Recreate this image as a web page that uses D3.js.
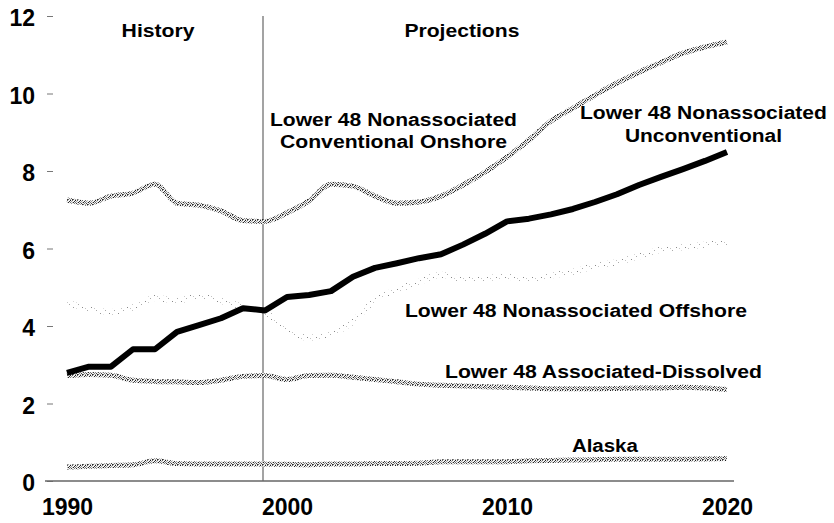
<!DOCTYPE html>
<html>
<head>
<meta charset="utf-8">
<script src="https://cdn.jsdelivr.net/npm/d3@7"></script>
<style>
  html, body { margin: 0; padding: 0; background: #fff; }
  svg { display: block; }
  text { font-family: "Liberation Sans", Arial, Helvetica, sans-serif; font-weight: bold; fill: #000; }
</style>
</head>
<body>
<svg id="chart" width="834" height="523"></svg>
<script>
// ---- Data (trillion cubic feet) ----
const years = d3.range(1990, 2021);
const onshore = [7.25, 7.17, 7.35, 7.43, 7.66, 7.17, 7.12, 6.97, 6.72, 6.7,
  6.92, 7.23, 7.66, 7.61, 7.35, 7.17, 7.2, 7.35, 7.64, 7.97,
  8.36, 8.8, 9.29, 9.62, 9.96, 10.27, 10.55, 10.8, 11.04, 11.2, 11.33];
const unconventional = [2.79, 2.95, 2.95, 3.4, 3.4, 3.85, 4.02, 4.2, 4.46, 4.4,
  4.75, 4.8, 4.9, 5.27, 5.5, 5.62, 5.75, 5.85, 6.1, 6.38,
  6.7, 6.77, 6.88, 7.02, 7.2, 7.4, 7.64, 7.85, 8.05, 8.26, 8.49];
const offshore = [4.6, 4.45, 4.36, 4.48, 4.72, 4.66, 4.76, 4.65, 4.5, 4.35,
  3.88, 3.7, 3.8, 4.12, 4.68, 4.93, 5.14, 5.32, 5.22, 5.24,
  5.27, 5.2, 5.3, 5.4, 5.55, 5.65, 5.8, 5.97, 6.03, 6.1, 6.17];
const associated = [2.72, 2.75, 2.73, 2.6, 2.57, 2.56, 2.54, 2.6, 2.7, 2.72,
  2.62, 2.72, 2.73, 2.68, 2.62, 2.56, 2.5, 2.47, 2.45, 2.43,
  2.42, 2.4, 2.38, 2.38, 2.38, 2.39, 2.4, 2.4, 2.42, 2.4, 2.36];
const alaska = [0.36, 0.38, 0.4, 0.42, 0.52, 0.45, 0.44, 0.44, 0.44, 0.44,
  0.43, 0.42, 0.44, 0.44, 0.45, 0.45, 0.46, 0.5, 0.5, 0.5,
  0.5, 0.52, 0.53, 0.54, 0.55, 0.56, 0.56, 0.56, 0.56, 0.57, 0.58];
const yTicks = [0, 2, 4, 6, 8, 10, 12];
const xTicks = [1990, 2000, 2010, 2020];
const historyEnd = 1999;

// ---- Scales ----
const svg = d3.select("#chart");
const x = d3.scaleLinear().domain([1990, 2020]).range([67, 727]);
const y = d3.scaleLinear().domain([0, 12]).range([481, 16]);

// ---- Patterns (stippled halftone look) ----
const defs = svg.append("defs");
const stip = defs.append("pattern").attr("id", "stip")
  .attr("width", 5).attr("height", 5).attr("patternUnits", "userSpaceOnUse");
stip.append("rect").attr("width", 5).attr("height", 5).attr("fill", "#f2f2f2");
[[0,0,"#1a1a1a"],[2,0,"#666"],[4,1,"#333"],[1,1,"#999"],[3,2,"#222"],[0,2,"#777"],
 [1,3,"#444"],[4,3,"#888"],[2,4,"#2a2a2a"],[0,4,"#aaa"],[3,4,"#666"],[2,2,"#bbb"]].forEach(([px,py,c]) =>
  stip.append("rect").attr("x", px).attr("y", py).attr("width", 1).attr("height", 1).attr("fill", c));

const dots = defs.append("pattern").attr("id", "dots")
  .attr("width", 9).attr("height", 6).attr("patternUnits", "userSpaceOnUse");
[[1,1,"#888"],[6,4,"#aaa"],[4,2,"#c4c4c4"]].forEach(([px,py,c]) =>
  dots.append("rect").attr("x", px).attr("y", py).attr("width", 1).attr("height", 1).attr("fill", c));

// ---- Axes ----
const yAxis = d3.axisLeft(y).tickValues(yTicks).tickSize(6).tickPadding(12).tickFormat(d3.format("d"));
const gy = svg.append("g").attr("transform", "translate(53,0)").call(yAxis);
gy.select(".domain").remove();
gy.selectAll(".tick line").attr("stroke", "#777").attr("stroke-width", 1);
gy.selectAll(".tick text").attr("font-size", 23).attr("dy", "0.43em")
  .style("font-family", '"Liberation Sans", Arial, sans-serif').style("font-weight", "bold").attr("fill", "#000");

const xAxis = d3.axisBottom(x).tickValues(xTicks).tickSize(0).tickPadding(18).tickFormat(d3.format("d"));
const gx = svg.append("g").attr("transform", `translate(0,${y(0)})`).call(xAxis);
gx.select(".domain").remove();
gx.selectAll(".tick text").attr("font-size", 23)
  .style("font-family", '"Liberation Sans", Arial, sans-serif').style("font-weight", "bold").attr("fill", "#000");
svg.append("line")
  .attr("x1", x(1990) - 22).attr("x2", x(2020) + 7)
  .attr("y1", y(0)).attr("y2", y(0))
  .attr("stroke", "#666").attr("stroke-width", 1.5);

// History / projections divider
svg.append("line")
  .attr("x1", x(historyEnd) - 2).attr("x2", x(historyEnd) - 2)
  .attr("y1", y(12)).attr("y2", y(0))
  .attr("stroke", "#666").attr("stroke-width", 1.2);

// ---- Lines ----
const line = d3.line().x((d, i) => x(years[i])).y(d => y(d)).curve(d3.curveMonotoneX);

svg.append("path").datum(offshore).attr("d", line)
  .attr("fill", "none").attr("stroke", "url(#dots)").attr("stroke-width", 6);

[onshore, associated, alaska].forEach(s => {
  svg.append("path").datum(s).attr("d", line)
    .attr("fill", "none").attr("stroke", "url(#stip)").attr("stroke-width", 5)
    .attr("stroke-linejoin", "round");
});

svg.append("path").datum(unconventional).attr("d", d3.line().x((d, i) => x(years[i])).y(d => y(d)))
  .attr("fill", "none").attr("stroke", "#000").attr("stroke-width", 6)
  .attr("stroke-linejoin", "round");

// ---- Annotations ----
function label(lines, xv, baselines, anchor, lengths) {
  lines.forEach((t, i) => {
    svg.append("text")
      .attr("x", x(xv)).attr("y", baselines[i])
      .attr("text-anchor", anchor)
      .attr("font-size", 18)
      .attr("textLength", lengths[i]).attr("lengthAdjust", "spacingAndGlyphs")
      .text(t);
  });
}
label(["History"], 1994.14, [37], "middle", [73]);
label(["Projections"], 2007.95, [37], "middle", [115]);
label(["Lower 48 Nonassociated", "Conventional Onshore"], 2004.84, [126, 148], "middle", [247, 227]);
label(["Lower 48 Nonassociated", "Unconventional"], 2018.93, [119, 142], "middle", [247, 157]);
label(["Lower 48 Nonassociated Offshore"], 2005.36, [317], "start", [342]);
label(["Lower 48 Associated-Dissolved"], 2007.18, [378], "start", [317]);
label(["Alaska"], 2012.95, [452], "start", [66]);
</script>
</body>
</html>
